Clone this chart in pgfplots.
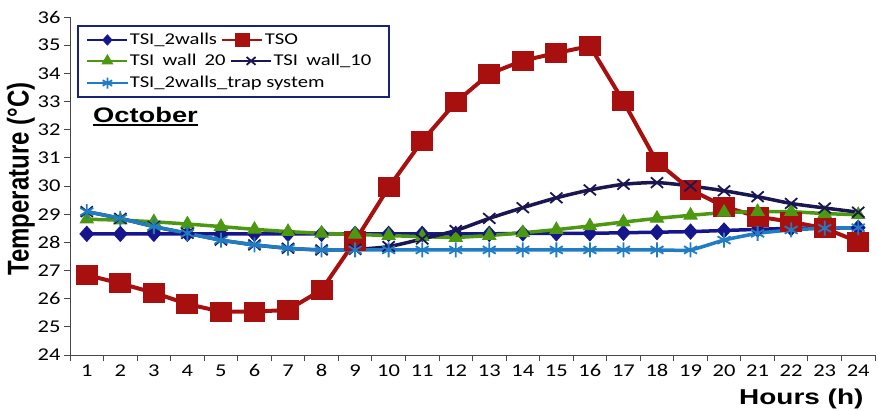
\documentclass[border=0pt]{standalone}
\usepackage{pgfplots}
\pgfplotsset{compat=1.18}
\usepackage{fontspec}
\setmainfont{Carlito}[FakeStretch=1.25]
\newfontfamily\headfont{Liberation Sans}[FakeStretch=1.3]
\newfontfamily\vheadfont{Liberation Sans}

\definecolor{cWalls}{RGB}{22,22,140}
\definecolor{cTSO}{RGB}{168,16,16}
\definecolor{cW20}{RGB}{76,152,16}
\definecolor{cW10}{RGB}{26,22,82}
\definecolor{cTrap}{RGB}{32,124,196}
\definecolor{cFrame}{RGB}{24,34,120}
\definecolor{cAxis}{RGB}{70,70,70}

\pgfplotsset{
  sWalls/.style={cWalls, line width=3.5pt, mark=diamond*, mark size=7.5pt,
    mark options={solid, xscale=1.2, line width=1pt}},
  sTSO/.style={cTSO, line width=4pt, mark=square*, mark size=9.5pt,
    mark options={solid, xscale=1.1, line width=1pt}},
  sW20/.style={cW20, line width=3.5pt, mark=triangle*, mark size=7.5pt,
    mark options={solid, line width=1pt}},
  sW10/.style={cW10, line width=3.5pt, smooth, tension=0.45, mark=x, mark size=7.5pt,
    mark options={solid, xscale=1.15, line width=1.8pt}},
  sTrap/.style={cTrap, line width=3.5pt, smooth, tension=0.3, mark=asterisk, mark size=7.5pt,
    mark options={solid, line width=1.8pt}},
  frame/.style={scale only axis, width=805pt, height=338pt,
    at={(70pt,-355pt)}, anchor=south west,
    xmin=0.5, xmax=24.5, ymin=24, ymax=36},
  legrow/.style={legend columns=-1,
    legend style={draw=none, fill=none, inner sep=0pt, outer sep=0pt, anchor=west,
      font=\fontsize{16.5}{19}\selectfont,
      nodes={inner sep=1pt},
      /tikz/every even column/.append style={column sep=3pt}},
    legend image code/.code={\draw[mark repeat=2,mark phase=2,##1]
      plot coordinates {(0pt,0pt) (20pt,0pt) (40pt,0pt)};}},
}

\newcommand\thickul[1]{\setbox0\hbox{#1}\rlap{\rule[-4pt]{\wd0}{2.2pt}}\box0}

\begin{document}
\begin{tikzpicture}
\path[use as bounding box] (0pt,0pt) rectangle (878pt,-411pt);

\begin{axis}[frame, legrow,
  legend style={at={(axis description cs:0.0199,0.932)}},
  axis lines=left, axis line style={-, cAxis, line width=0.9pt},
  tick align=outside, major tick length=6pt, minor tick length=6pt,
  tick style={cAxis, line width=0.9pt},
  xtick={1,...,24}, minor xtick={0.5,1.5,...,24.5},
  major x tick style={draw=none},
  ytick={24,...,36},
  tick label style={font=\fontsize{18}{21}\selectfont},
  /pgf/number format/assume math mode=true,
  xlabel={\headfont\bfseries Hours (h)},
  xlabel style={at={(axis description cs:0.99,-0.1479)}, anchor=base east,
    font=\fontsize{21.5}{24}\selectfont},
  ylabel={\scalebox{1}[1.25]{\vheadfont\bfseries Temperature (°C)}},
  ylabel style={at={(axis description cs:-0.0609,0.52)}, anchor=center,
    font=\fontsize{24}{28}\selectfont},
  clip=false,
]
% indoor temperature, two walls
\addplot[sWalls, forget plot] coordinates {
 (1,28.3) (2,28.3) (3,28.3) (4,28.3) (5,28.3) (6,28.3) (7,28.3) (8,28.3)
 (9,28.3) (10,28.3) (11,28.3) (12,28.3) (13,28.3) (14,28.32) (15,28.32) (16,28.32)
 (17,28.34) (18,28.36) (19,28.38) (20,28.42) (21,28.46) (22,28.5) (23,28.5) (24,28.52)};
% outdoor temperature
\addplot[sTSO, forget plot] coordinates {
 (1,26.84) (2,26.54) (3,26.21) (4,25.81) (5,25.54) (6,25.54) (7,25.6) (8,26.31)
 (9,28.05) (10,29.95) (11,31.6) (12,32.97) (13,33.98) (14,34.45) (15,34.72) (16,34.97)
 (17,33.0) (18,30.85) (19,29.87) (20,29.27) (21,28.91) (22,28.73) (23,28.5) (24,28.02)};
% indoor temperature, wall 20
\addplot[sW20, forget plot] coordinates {
 (1,28.82) (2,28.79) (3,28.73) (4,28.65) (5,28.56) (6,28.46) (7,28.38) (8,28.32)
 (9,28.28) (10,28.24) (11,28.2) (12,28.17) (13,28.24) (14,28.34) (15,28.45) (16,28.58)
 (17,28.72) (18,28.85) (19,28.96) (20,29.06) (21,29.09) (22,29.09) (23,29.02) (24,28.98)};
% indoor temperature, wall 10
\addplot[sW10, forget plot] coordinates {
 (1,29.09) (2,28.85) (3,28.56) (4,28.32) (5,28.08) (6,27.91) (7,27.79) (8,27.73)
 (9,27.75) (10,27.85) (11,28.12) (12,28.42) (13,28.85) (14,29.23) (15,29.58) (16,29.86)
 (17,30.06) (18,30.12) (19,30.0) (20,29.83) (21,29.62) (22,29.38) (23,29.22) (24,29.07)};
% indoor temperature, two walls with trap system
\addplot[sTrap, forget plot] coordinates {
 (1,29.09) (2,28.85) (3,28.56) (4,28.32) (5,28.08) (6,27.91) (7,27.79) (8,27.73)
 (9,27.73) (10,27.73) (11,27.73) (12,27.73) (13,27.73) (14,27.73) (15,27.73) (16,27.73)
 (17,27.73) (18,27.73) (19,27.73) (20,28.08) (21,28.32) (22,28.44) (23,28.5) (24,28.52)};

\addlegendimage{sWalls, mark size=5pt, line width=2.8pt}
\addlegendentry{TSI\_2walls}
\addlegendimage{sTSO, mark size=6.5pt, line width=2.8pt}
\addlegendentry{TSO}
\end{axis}

% second legend row
\begin{axis}[frame, hide axis, legrow,
  legend style={at={(axis description cs:0.0199,0.870)}}]
\addlegendimage{sW20, mark size=6pt, line width=2.8pt}
\addlegendentry{TSI\enspace wall\enspace 20}
\addlegendimage{sW10, mark size=5.5pt, line width=2.8pt}
\addlegendentry{TSI\enspace wall\_10}
\end{axis}

% third legend row
\begin{axis}[frame, hide axis, legrow,
  legend style={at={(axis description cs:0.0199,0.8047)}}]
\addlegendimage{sTrap, mark size=5.5pt, line width=2.8pt}
\addlegendentry{TSI\_2walls\_trap system}
\end{axis}

\draw[cFrame, line width=1.8pt] (78pt,-26pt) rectangle (389pt,-97pt);

\node[anchor=base west, inner sep=0pt, font=\fontsize{21}{24}\selectfont]
  at (93pt,-122.5pt) {\headfont\bfseries\thickul{October}};
\end{tikzpicture}
\end{document}
